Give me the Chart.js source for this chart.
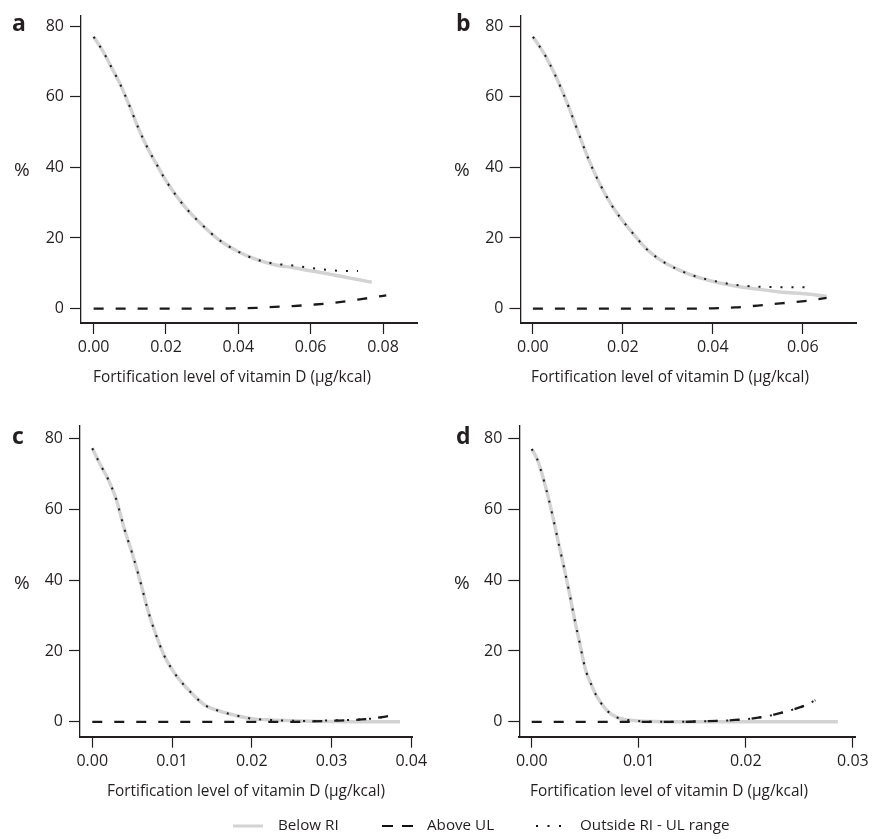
<!DOCTYPE html>
<html>
<head>
<meta charset="utf-8">
<script src="https://cdn.jsdelivr.net/npm/chart.js@4/dist/chart.umd.min.js"></script>
<style>
  html, body { margin: 0; padding: 0; background: #fff; }
  body { width: 879px; height: 839px; position: relative; overflow: hidden;
         font-family: 'Open Sans', sans-serif; color: #231f20; }
  canvas { position: absolute; }
  .t { position: absolute; white-space: nowrap; line-height: 1; }
  .lbl { font-weight: bold; font-size: 23px; }
  .pct { font-size: 19px; }
  .xt { font-size: 15.4px; width: 400px; text-align: center; }
  .lg { font-size: 15.2px; }
</style>
</head>
<body>
<canvas id="ca" width="440" height="400" style="left:0;top:0"></canvas>
<canvas id="cb" width="440" height="400" style="left:440px;top:0"></canvas>
<canvas id="cc" width="440" height="400" style="left:0;top:410px"></canvas>
<canvas id="cd" width="440" height="400" style="left:440px;top:410px"></canvas>

<div class="t lbl" style="left:12px;top:11px">a</div>
<div class="t lbl" style="left:456px;top:11px">b</div>
<div class="t lbl" style="left:12px;top:424px">c</div>
<div class="t lbl" style="left:456px;top:424px">d</div>

<div class="t pct" style="left:14px;top:160px">%</div>
<div class="t pct" style="left:454px;top:160px">%</div>
<div class="t pct" style="left:14px;top:573px">%</div>
<div class="t pct" style="left:454px;top:573px">%</div>

<div class="t xt" style="left:32px;top:369px">Fortification level of vitamin D (µg/kcal)</div>
<div class="t xt" style="left:470px;top:369px">Fortification level of vitamin D (µg/kcal)</div>
<div class="t xt" style="left:46px;top:783px">Fortification level of vitamin D (µg/kcal)</div>
<div class="t xt" style="left:469px;top:783px">Fortification level of vitamin D (µg/kcal)</div>

<svg style="position:absolute;left:0;top:0" width="879" height="839">
  <line x1="233" y1="826" x2="263" y2="826" stroke="#d3d3d3" stroke-width="3"/>
  <line x1="382" y1="826" x2="414" y2="826" stroke="#111" stroke-width="2.2" stroke-dasharray="11 9"/>
  <line x1="536" y1="826" x2="562" y2="826" stroke="#111" stroke-width="2" stroke-dasharray="2 9.5"/>
</svg>
<div class="t lg" style="left:278px;top:817px">Below RI</div>
<div class="t lg" style="left:427px;top:817px">Above UL</div>
<div class="t lg" style="left:580px;top:817px">Outside RI - UL range</div>

<script>
// ---------- data ----------
const seriesNames = ['Below RI', 'Above UL', 'Outside RI - UL range'];
const yTicks = [0, 20, 40, 60, 80];

// panel a
const aX       = [0, 0.0025, 0.005, 0.0075, 0.01, 0.0125, 0.015, 0.0175, 0.02, 0.025, 0.03, 0.035, 0.04, 0.045, 0.05, 0.055, 0.06, 0.065, 0.07, 0.0731, 0.0769, 0.0809];
const aBelow   = [77, 73.0, 68.2, 63.2, 57.2, 50.8, 45.3, 40.7, 36.2, 29.1, 23.7, 19.2, 16.1, 13.9, 12.4, 11.6, 10.7, 9.8, 8.8, 8.2, 7.45, null];
const aAbove   = [0, 0, 0, 0, 0, 0, 0, 0, 0, 0, 0, 0, 0.1, 0.2, 0.45, 0.7, 1.05, 1.45, 2.1, 2.55, 3.1, 3.75];
const aOutside = [77, 73.0, 68.2, 63.2, 57.2, 50.8, 45.3, 40.7, 36.2, 29.1, 23.7, 19.2, 16.1, 13.9, 12.7, 12.2, 11.5, 10.9, 10.6, 10.6, null, null];
const aXTicks  = [0, 0.02, 0.04, 0.06, 0.08];

// panel b
const bX       = [0, 0.0025, 0.005, 0.0075, 0.01, 0.0125, 0.015, 0.0175, 0.02, 0.0225, 0.025, 0.0275, 0.03, 0.035, 0.04, 0.045, 0.05, 0.055, 0.061, 0.0653];
const bBelow   = [77, 72.2, 66.0, 58.6, 50.2, 41.9, 35.0, 29.3, 24.8, 20.9, 17.2, 14.5, 12.5, 9.6, 7.7, 6.4, 5.5, 4.7, 4.1, 3.45];
const bAbove   = [0, 0, 0, 0, 0, 0, 0, 0, 0, 0, 0, 0, 0, 0, 0.05, 0.3, 0.85, 1.45, 2.2, 3.0];
const bOutside = [77, 72.2, 66.0, 58.6, 50.2, 41.9, 35.0, 29.3, 24.8, 20.9, 17.2, 14.5, 12.5, 9.6, 7.9, 6.7, 6.2, 6.05, 6.05, null];
const bXTicks  = [0, 0.02, 0.04, 0.06];

// panel c
const cX       = [0, 0.001, 0.002, 0.003, 0.004, 0.005, 0.006, 0.007, 0.008, 0.009, 0.01, 0.011, 0.0125, 0.014, 0.016, 0.018, 0.02, 0.0225, 0.025, 0.0275, 0.03, 0.0325, 0.035, 0.0374, 0.0386];
const cBelow   = [77.2, 72.6, 68.4, 62.8, 54.6, 47.6, 39.8, 31.3, 24.5, 18.8, 14.8, 11.7, 8.0, 4.9, 3.0, 1.8, 0.9, 0.5, 0.3, 0.15, 0.1, 0.05, 0.02, 0, 0];
const cAbove   = [0, 0, 0, 0, 0, 0, 0, 0, 0, 0, 0, 0, 0, 0, 0, 0, 0, 0, 0, 0.1, 0.3, 0.5, 0.9, 1.7, null];
const cOutside = [77.2, 72.6, 68.4, 62.8, 54.6, 47.6, 39.8, 31.3, 24.5, 18.8, 14.8, 11.7, 8.0, 4.9, 3.0, 1.8, 0.9, 0.5, 0.3, 0.25, 0.4, 0.55, 0.9, 1.7, null];
const cXTicks  = [0, 0.01, 0.02, 0.03, 0.04];

// panel d
const dX       = [0, 0.0005, 0.001, 0.0015, 0.002, 0.0025, 0.003, 0.0035, 0.004, 0.0045, 0.005, 0.0055, 0.006, 0.007, 0.008, 0.009, 0.01, 0.012, 0.014, 0.016, 0.018, 0.02, 0.022, 0.024, 0.0256, 0.0265, 0.0286];
const dBelow   = [77, 74.2, 69.6, 63.9, 57.5, 50.5, 43.8, 36.7, 29.0, 22.0, 15.0, 11.0, 7.6, 3.3, 1.2, 0.5, 0.2, 0.05, 0, 0, 0, 0, 0, 0, 0, 0, 0];
const dAbove   = [0, 0, 0, 0, 0, 0, 0, 0, 0, 0, 0, 0, 0, 0, 0, 0, 0, 0, 0, 0.15, 0.35, 0.75, 1.6, 3.1, 4.7, 6.1, null];
const dOutside = [77, 74.2, 69.6, 63.9, 57.5, 50.5, 43.8, 36.7, 29.0, 22.0, 15.0, 11.0, 7.6, 3.3, 1.2, 0.5, 0.2, 0.05, 0, 0.15, 0.35, 0.75, 1.6, 3.1, 4.7, 6.1, null];
const dXTicks  = [0, 0.01, 0.02, 0.03];

// ---------- drawing ----------
Chart.defaults.font.family = "'Open Sans', sans-serif";
Chart.defaults.font.size = 16;
Chart.defaults.color = '#231f20';

function pts(xs, ys) {
  const out = [];
  xs.forEach((x, i) => { if (ys[i] !== null && ys[i] !== undefined) out.push({ x: x, y: ys[i] }); });
  return out;
}

function panel(id, xs, below, above, outside, xTicks, xMin, xMax, yMin, yMax, area) {
  const ink = '#1a1a1a';
  new Chart(document.getElementById(id), {
    type: 'line',
    data: {
      datasets: [
        { label: seriesNames[2], data: pts(xs, outside), borderColor: ink, borderWidth: 2,
          borderDash: [2, 9], borderCapStyle: 'butt', pointRadius: 0, cubicInterpolationMode: 'monotone', order: 0 },
        { label: seriesNames[1], data: pts(xs, above), borderColor: ink, borderWidth: 2.3,
          borderDash: [10, 12], pointRadius: 0, cubicInterpolationMode: 'monotone', order: 1 },
        { label: seriesNames[0], data: pts(xs, below), borderColor: '#d3d3d3', borderWidth: 3.5,
          pointRadius: 0, cubicInterpolationMode: 'monotone', order: 2 }
      ]
    },
    options: {
      responsive: false,
      animation: false,
      events: [],
      layout: { padding: { left: 0, top: area.top, right: 440 - area.right, bottom: 0 } },
      plugins: { legend: { display: false }, tooltip: { enabled: false } },
      scales: {
        x: {
          type: 'linear', min: xMin, max: xMax,
          afterFit: s => { s.height = 400 - area.bottom; },
          afterBuildTicks: s => { s.ticks = xTicks.map(v => ({ value: v })); },
          ticks: { padding: 4, maxRotation: 0, autoSkip: false, callback: v => Number(v).toFixed(2) },
          grid: { display: true, drawOnChartArea: false, drawTicks: true, tickLength: 11, tickWidth: 1.2, tickColor: '#231f20' },
          border: { display: true, color: '#231f20', width: 2 }
        },
        y: {
          type: 'linear', min: yMin, max: yMax,
          afterFit: s => { s.width = area.left; },
          afterBuildTicks: s => { s.ticks = yTicks.map(v => ({ value: v })); },
          ticks: { padding: 6, callback: v => String(v) },
          grid: { display: true, drawOnChartArea: false, drawTicks: true, tickLength: 11, tickWidth: 1.2, tickColor: '#231f20' },
          border: { display: true, color: '#231f20', width: 1.3 }
        }
      }
    }
  });
}

panel('ca', aX, aBelow, aAbove, aOutside, aXTicks, -0.0035, 0.0894, -4.1, 83.0, { left: 81, right: 417, top: 12, bottom: 323 });
panel('cb', bX, bBelow, bAbove, bOutside, bXTicks, -0.00276, 0.072, -4.1, 83.0, { left: 80.5, right: 416.7, top: 12, bottom: 323 });
panel('cc', cX, cBelow, cAbove, cOutside, cXTicks, -0.00154, 0.0401, -4.2, 83.6, { left: 80, right: 412, top: 14, bottom: 326.7 });
panel('cd', dX, dBelow, dAbove, dOutside, dXTicks, -0.00116, 0.0302, -4.2, 83.6, { left: 79.3, right: 415, top: 14, bottom: 326.7 });
</script>
</body>
</html>
